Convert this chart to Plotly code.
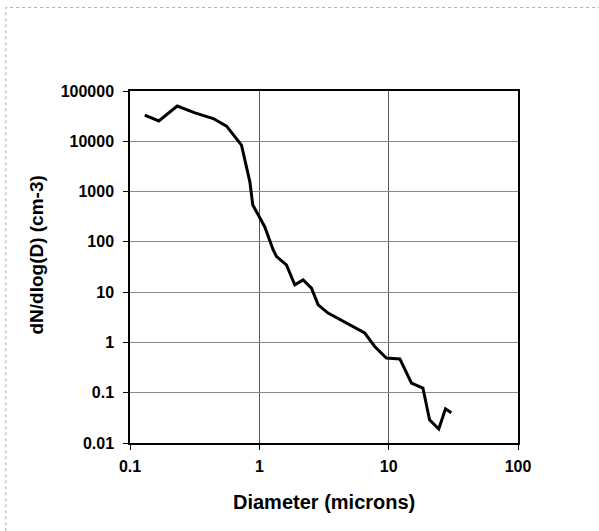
import plotly.graph_objects as go

# particle size distribution
diameter_um = [0.13, 0.167, 0.232, 0.318, 0.44, 0.558, 0.728, 0.845, 0.89, 1.10,
               1.28, 1.36, 1.62, 1.88, 2.18, 2.53, 2.85, 3.40, 6.53, 7.8,
               9.6, 12.2, 15.0, 18.4, 20.7, 24.4, 27.5, 30.5]
dn_dlogd = [33000, 25400, 50300, 36600, 28300, 20000, 8370, 1560, 540, 200,
            69, 50.8, 34.8, 14, 17.5, 12, 5.6, 3.83, 1.54, 0.83,
            0.49, 0.47, 0.156, 0.124, 0.029, 0.019, 0.048, 0.040]

x_ticks = [0.1, 1, 10, 100]
x_labels = ["0.1", "1", "10", "100"]
y_ticks = [0.01, 0.1, 1, 10, 100, 1000, 10000, 100000]
y_labels = ["0.01", "0.1", "1", "10", "100", "1000", "10000", "100000"]

FONT = "Liberation Sans, Arial, sans-serif"

fig = go.Figure(go.Scatter(
    x=diameter_um, y=dn_dlogd, mode="lines",
    line=dict(color="black", width=3),
    showlegend=False,
))

fig.update_xaxes(
    type="log", range=[-1, 2],
    tickvals=x_ticks, ticktext=x_labels,
    ticks="outside", ticklen=5, tickcolor="black", ticklabelstandoff=3,
    showgrid=True, gridcolor="#555", gridwidth=1,
    showline=True, linecolor="black", linewidth=1.5, mirror=True,
    tickfont=dict(family=FONT, size=16, color="black", weight="bold"),
    zeroline=False,
)
fig.update_yaxes(
    type="log", range=[-2, 5],
    tickvals=y_ticks, ticktext=y_labels,
    ticks="outside", ticklen=5, tickcolor="black", ticklabelstandoff=6,
    showgrid=True, gridcolor="#888", gridwidth=1,
    showline=True, linecolor="black", linewidth=1.5, mirror=True,
    tickfont=dict(family=FONT, size=16, color="black", weight="bold"),
    zeroline=False,
)

fig.update_layout(
    width=599, height=531,
    margin=dict(l=130, r=81, t=91, b=88),
    paper_bgcolor="white", plot_bgcolor="white",
    annotations=[
        dict(text="Diameter (microns)", xref="paper", yref="paper",
             x=0.5, y=-0.167, showarrow=False, yanchor="middle",
             font=dict(family=FONT, size=20, color="black", weight="bold")),
        dict(text="dN/dlog(D) (cm-3)", xref="paper", yref="paper",
             x=-0.24, y=0.535, showarrow=False, textangle=-90,
             xanchor="center", yanchor="middle",
             font=dict(family=FONT, size=19, color="black", weight="bold")),
    ],
    shapes=[
        dict(type="rect", xref="paper", yref="paper",
             x0=-0.32, x1=1.25, y0=-0.3, y1=1.237,
             line=dict(color="#aaa", width=1, dash="dot")),
    ],
)

# no page margin, so the chart sits at the window's corner
fig.write_html("out.html", config={"displayModeBar": False},
               post_script="document.body.style.margin='0px';")
